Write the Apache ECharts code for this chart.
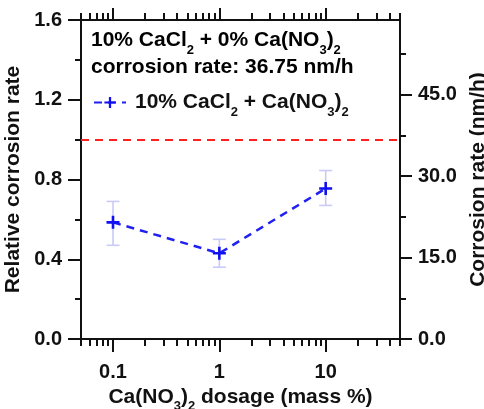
<!DOCTYPE html>
<html><head><meta charset="utf-8">
<script src="https://cdn.jsdelivr.net/npm/echarts@6/dist/echarts.min.js"></script>
<style>html,body{margin:0;padding:0;background:#fff}#c{width:484px;height:409px}</style>
</head><body><div id="c"></div>
<script>
// ---- data ----
const dosage = [0.1, 1, 10];                 // Ca(NO3)2 dosage (mass %)
const relRate = [0.585, 0.43, 0.755];        // relative corrosion rate
const errLow = [0.47, 0.36, 0.67];
const errHigh = [0.69, 0.50, 0.845];
const refLevel = [1.0];                      // 10% CaCl2 + 0% Ca(NO3)2 baseline
const baseRate = 36.75;                      // nm/h
const xMajorTicks = [0.1, 1, 10];
const xMinorTicks = [0.05,0.06,0.07,0.08,0.09,0.2,0.3,0.4,0.5,0.6,0.7,0.8,0.9,2,3,4,5,6,7,8,9,20,30,40,50];
const rightMajorTicks = [0, 15, 30, 45];
const rightMinorTicks = [7.5, 22.5, 37.5, 52.5];

const FONT = '"Liberation Sans", Arial, sans-serif';
const FS = 20;
const mkRich = () => ({
  n: {fontFamily: FONT, fontWeight: 'bold', fontSize: 21, color: '#111', lineHeight: 26},
  s: {fontFamily: FONT, fontWeight: 'bold', fontSize: 13, color: '#111', verticalAlign: 'bottom', lineHeight: 15, padding: [0,0,-3,0]}
});
const chart = echarts.init(document.getElementById('c'));
const mkLine = () => ({show: true, onZero: false, lineStyle: {color: '#111', width: 2}});
const mkTick = () => ({color: '#111', width: 2});
const yMax = 1.6;
function xAxisDef(pos, ticks, len, showLine, label) {
  return {
    type: 'log', logBase: 10, min: 0.05, max: 50, position: pos,
    axisLine: showLine ? mkLine() : {show: false, onZero: false},
    axisTick: {show: true, inside: false, length: len, lineStyle: mkTick(), customValues: ticks},
    axisLabel: label ? {show: true, customValues: xMajorTicks, margin: 23, fontFamily: FONT, fontWeight: 'bold', fontSize: FS, color: '#111',
      formatter: v => String(v)} : {show: false},
    splitLine: {show: false}, minorTick: {show: false}, minorSplitLine: {show: false}
  };
}
const xAxes = [
  xAxisDef('bottom', xMajorTicks, 13, true, true),
  xAxisDef('bottom', xMinorTicks, 7, false, false),
  xAxisDef('top', xMajorTicks, 12, true, false),
  xAxisDef('top', xMinorTicks, 7, false, false)
];
xAxes[0].name = '{n|Ca(NO}{s|3}{n|)}{s|2}{n| dosage (mass %)}';
xAxes[0].nameLocation = 'middle';
xAxes[0].nameGap = 42;
xAxes[0].nameTextStyle = {rich: mkRich()};

const option = {
  animation: false,
  grid: {left: 81, right: 84, top: 20, bottom: 70, containLabel: false, outerBoundsMode: 'none',
         show: true, borderColor: '#111', borderWidth: 2},
  xAxis: xAxes,
  yAxis: [
    {type: 'value', min: 0, max: yMax, interval: 0.4, position: 'left',
     axisLine: mkLine(),
     axisTick: {show: true, inside: false, length: 13, lineStyle: mkTick()},
     minorTick: {show: true, splitNumber: 2, length: 6, lineStyle: mkTick()},
     axisLabel: {margin: 19, fontFamily: FONT, fontWeight: 'bold', fontSize: FS, color: '#111', formatter: v => v.toFixed(1)},
     splitLine: {show: false},
     name: '{n|Relative corrosion rate}', nameLocation: 'middle', nameRotate: 90, nameGap: 49,
     nameTextStyle: {rich: mkRich()}},
    {type: 'value', min: 0, max: yMax * baseRate, position: 'right',
     axisLine: mkLine(),
     axisTick: {show: true, inside: false, length: 12, lineStyle: mkTick(), customValues: rightMajorTicks},
     axisLabel: {margin: 18, customValues: rightMajorTicks, fontFamily: FONT, fontWeight: 'bold', fontSize: FS, color: '#111', formatter: v => v.toFixed(1)},
     splitLine: {show: false},
     name: '{n|Corrosion rate (nm/h)}', nameLocation: 'middle', nameRotate: 90, nameGap: 61,
     nameTextStyle: {rich: mkRich()}},
    {type: 'value', min: 0, max: yMax * baseRate, position: 'right',
     axisLine: {show: false, onZero: false},
     axisTick: {show: true, inside: false, length: 6, lineStyle: mkTick(), customValues: rightMinorTicks},
     axisLabel: {show: false}, splitLine: {show: false}}
  ],
  legend: {
    show: true, left: 88, top: 87, itemWidth: 32, itemHeight: 14, itemGap: 0,
    data: ['10% CaCl2 + Ca(NO3)2'],
    formatter: () => '{n|10% CaCl}{s|2}{n| + Ca(NO}{s|3}{n|)}{s|2}',
    textStyle: {rich: mkRich(), padding: [0,0,0,4]}
  },
  graphic: [
    {type: 'text', left: 91, top: 30, style: {text: '{n|10% CaCl}{s|2}{n| + 0% Ca(NO}{s|3}{n|)}{s|2}', rich: mkRich()}},
    {type: 'text', left: 91, top: 57, style: {text: '{n|corrosion rate: ' + baseRate.toFixed(2) + ' nm/h}', rich: mkRich()}}
  ],
  series: [
    {type: 'custom', name: 'err', xAxisIndex: 0, yAxisIndex: 0, z: 2,
     data: dosage.map((d, i) => [d, errLow[i], errHigh[i]]),
     renderItem: function (params, api) {
       const x = api.value(0);
       const lo = api.coord([x, api.value(1)]);
       const hi = api.coord([x, api.value(2)]);
       const w = 6.5;
       const st = {stroke: '#c8cbf8', lineWidth: 1.6};
       return {type: 'group', children: [
         {type: 'line', shape: {x1: lo[0], y1: lo[1], x2: hi[0], y2: hi[1]}, style: st},
         {type: 'line', shape: {x1: lo[0]-w, y1: lo[1], x2: lo[0]+w, y2: lo[1]}, style: st},
         {type: 'line', shape: {x1: hi[0]-w, y1: hi[1], x2: hi[0]+w, y2: hi[1]}, style: st}
       ]};
     }},
    {type: 'line', name: '10% CaCl2 + Ca(NO3)2', xAxisIndex: 0, yAxisIndex: 0, z: 3,
     data: dosage.map((d, i) => [d, relRate[i]]),
     symbol: 'path://M-1.2,-6 L1.2,-6 L1.2,-1.2 L6,-1.2 L6,1.2 L1.2,1.2 L1.2,6 L-1.2,6 L-1.2,1.2 L-6,1.2 L-6,-1.2 L-1.2,-1.2 Z',
     symbolSize: 13, symbolKeepAspect: true,
     itemStyle: {color: '#1010f0'},
     lineStyle: {color: '#2020f0', width: 2.5, type: [8, 6]},
     markLine: {silent: true, symbol: 'none', label: {show: false},
       lineStyle: {color: '#ff2020', width: 2, type: [8, 6]},
       data: refLevel.map(v => ({yAxis: v}))}
    }
  ]
};
chart.setOption(option);
</script></body></html>
